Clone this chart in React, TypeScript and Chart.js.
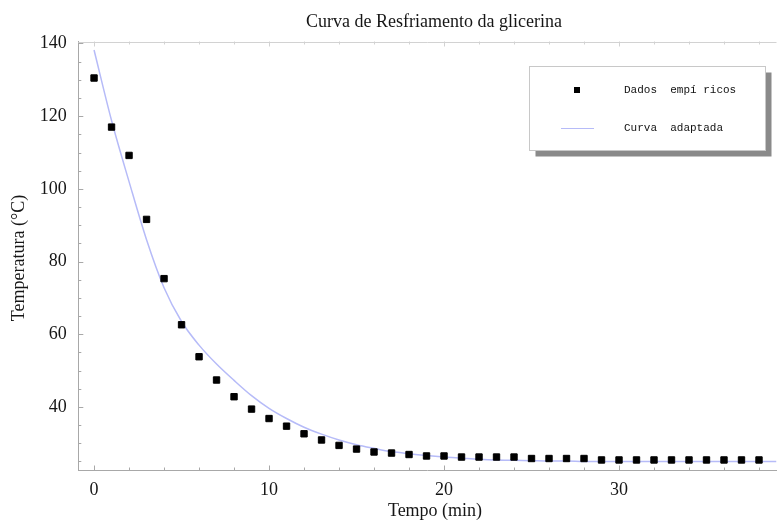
import React, { useEffect, useRef } from "react";
import { Chart, registerables } from "chart.js";

Chart.register(...registerables);

const chartTitle = "Curva de Resfriamento da glicerina";
const xAxisTitle = "Tempo (min)";
const yAxisTitle = "Temperatura (°C)";
const seriesLabels = ["Dados  empí ricos", "Curva  adaptada"];

const times = [0, 1, 2, 3, 4, 5, 6, 7, 8, 9, 10, 11, 12, 13, 14, 15, 16, 17, 18, 19, 20, 21, 22, 23, 24, 25, 26, 27, 28, 29, 30, 31, 32, 33, 34, 35, 36, 37, 38];
const temps = [130.5, 117.0, 109.2, 91.6, 75.3, 62.6, 53.8, 47.4, 42.8, 39.4, 36.8, 34.7, 32.6, 30.9, 29.4, 28.4, 27.6, 27.3, 26.9, 26.5, 26.5, 26.2, 26.2, 26.2, 26.2, 25.8, 25.8, 25.8, 25.8, 25.4, 25.4, 25.4, 25.4, 25.4, 25.4, 25.4, 25.4, 25.4, 25.4];

const curveTimes = [0, 1, 2, 3, 4, 5, 6, 7, 8, 9, 10, 11, 12, 13, 14, 15, 16, 17, 18, 19, 20, 21, 22, 23, 24, 25, 26, 27, 28, 29, 30, 31, 32, 33, 34, 35, 36, 37, 38, 39];
const curveTemps = [138.2, 118.8, 102.0, 86.0, 72.8, 63.5, 57.0, 51.8, 47.3, 43.1, 39.6, 36.8, 34.4, 32.5, 30.9, 29.6, 28.6, 27.7, 27.1, 26.6, 26.2, 25.9, 25.6, 25.4, 25.3, 25.2, 25.1, 25.1, 25.0, 25.0, 25.0, 25.0, 25.0, 25.0, 25.0, 25.0, 25.0, 25.0, 25.0, 25.0];

const xTickValues = [0, 10, 20, 30];
const yTickValues = [40, 60, 80, 100, 120, 140];
const xMinorTicks = [0, 2, 4, 6, 8, 10, 12, 14, 16, 18, 20, 22, 24, 26, 28, 30, 32, 34, 36, 38];
const yMinorTicks = [25, 30, 35, 40, 45, 50, 55, 60, 65, 70, 75, 80, 85, 90, 95, 100, 105, 110, 115, 120, 125, 130, 135, 140];

const SERIF = "'Liberation Serif', 'Times New Roman', serif";
const MONO = "'Liberation Mono', 'Courier New', monospace";
const AXIS_COLOR = "#a8a8a8";
const TOP_COLOR = "#d2d2d2";
const CURVE_COLOR = "#b6bbf8";

const decorPlugin = {
  id: "decor",
  afterDraw(chart: any) {
    const ctx = chart.ctx;
    const area = chart.chartArea;
    const xs = chart.scales.x;
    const ys = chart.scales.y;
    ctx.save();
    // top frame line
    ctx.strokeStyle = TOP_COLOR;
    ctx.lineWidth = 1;
    ctx.beginPath();
    ctx.moveTo(area.left, Math.round(area.top) + 0.5);
    ctx.lineTo(area.right, Math.round(area.top) + 0.5);
    for (const v of xMinorTicks) {
      const px = Math.round(xs.getPixelForValue(v)) + 0.5;
      const len = xTickValues.includes(v) ? 5 : 3;
      ctx.moveTo(px, area.top);
      ctx.lineTo(px, area.top + len);
    }
    ctx.stroke();
    // bottom and left ticks (inward)
    ctx.strokeStyle = AXIS_COLOR;
    ctx.beginPath();
    for (const v of xMinorTicks) {
      const px = Math.round(xs.getPixelForValue(v)) + 0.5;
      const len = xTickValues.includes(v) ? 5 : 3;
      ctx.moveTo(px, area.bottom);
      ctx.lineTo(px, area.bottom - len);
    }
    for (const v of yMinorTicks) {
      const py = Math.round(ys.getPixelForValue(v)) + 0.5;
      const len = yTickValues.includes(v) ? 5 : 3;
      ctx.moveTo(area.left, py);
      ctx.lineTo(area.left + len, py);
    }
    ctx.stroke();

    // titles
    ctx.fillStyle = "#161616";
    ctx.font = `18px ${SERIF}`;
    ctx.textAlign = "center";
    ctx.textBaseline = "middle";
    ctx.fillText(chartTitle, 434, 22);
    ctx.fillText(xAxisTitle, 435, 511);
    ctx.save();
    ctx.translate(19, (area.top + area.bottom) / 2 + 2);
    ctx.rotate(-Math.PI / 2);
    ctx.fillText(yAxisTitle, 0, 0);
    ctx.restore();

    // legend box with shadow
    const bx = 529.5, by = 66.5, bw = 236, bh = 84;
    ctx.fillStyle = "#8a8a8a";
    ctx.fillRect(bx + 6, by + 6, bw, bh);
    ctx.fillStyle = "#ffffff";
    ctx.fillRect(bx, by, bw, bh);
    ctx.strokeStyle = "#c8c8c8";
    ctx.strokeRect(bx, by, bw, bh);

    const ds0 = chart.data.datasets[0];
    const ds1 = chart.data.datasets[1];
    ctx.fillStyle = ds0.backgroundColor;
    ctx.fillRect(574, 87, 6, 6);
    ctx.strokeStyle = ds1.borderColor;
    ctx.lineWidth = 1.2;
    ctx.beginPath();
    ctx.moveTo(561, 128.5);
    ctx.lineTo(594, 128.5);
    ctx.stroke();

    ctx.fillStyle = "#111";
    ctx.font = `11px ${MONO}`;
    ctx.textAlign = "left";
    ctx.textBaseline = "middle";
    ctx.fillText(ds0.label, 624, 90);
    ctx.fillText(ds1.label, 624, 128.5);
    ctx.restore();
  },
};

export default function App() {
  const ref = useRef<HTMLCanvasElement | null>(null);
  useEffect(() => {
    const canvas = ref.current;
    if (!canvas) return;
    const chart = new Chart(canvas, {
      type: "scatter",
      data: {
        datasets: [
          {
            label: seriesLabels[0],
            data: times.map((t, i) => ({ x: t, y: temps[i] })),
            backgroundColor: "#000000",
            borderColor: "#000000",
            borderWidth: 1,
            pointStyle: "rect",
            pointRadius: 4.5,
            showLine: false,
            order: 0,
          },
          {
            label: seriesLabels[1],
            data: curveTimes.map((t, i) => ({ x: t, y: curveTemps[i] })),
            borderColor: CURVE_COLOR,
            backgroundColor: CURVE_COLOR,
            borderWidth: 1.5,
            pointRadius: 0,
            showLine: true,
            cubicInterpolationMode: "monotone",
            order: 1,
          },
        ],
      } as any,
      options: {
        animation: false,
        responsive: false,
        layout: { padding: { top: 41.5, right: 5, left: 0, bottom: 0 } },
        plugins: {
          legend: { display: false },
          title: { display: false },
          tooltip: { enabled: false },
        },
        scales: {
          x: {
            type: "linear",
            min: -0.9,
            max: 39.0,
            afterBuildTicks: (scale: any) => {
              scale.ticks = xTickValues.map((v) => ({ value: v }));
            },
            afterFit: (scale: any) => {
              scale.height = 51.5;
            },
            grid: { display: false, drawTicks: false },
            border: { display: true, color: AXIS_COLOR, width: 1 },
            ticks: {
              font: { family: SERIF, size: 18 },
              color: "#161616",
              padding: 9,
              maxRotation: 0,
            },
          },
          y: {
            type: "linear",
            min: 22.5,
            max: 140.55,
            afterBuildTicks: (scale: any) => {
              scale.ticks = yTickValues.map((v) => ({ value: v }));
            },
            afterFit: (scale: any) => {
              scale.width = 78.3;
            },
            grid: { display: false, drawTicks: false },
            border: { display: true, color: AXIS_COLOR, width: 1 },
            ticks: {
              font: { family: SERIF, size: 18 },
              color: "#161616",
              padding: 11.5,
            },
          },
        },
      } as any,
      plugins: [decorPlugin],
    });
    return () => chart.destroy();
  }, []);
  return (
    <div style={{ position: "absolute", left: 0, top: 0, width: 782, height: 522, background: "#fff" }}>
      <canvas ref={ref} width={782} height={522} style={{ display: "block" }} />
    </div>
  );
}
